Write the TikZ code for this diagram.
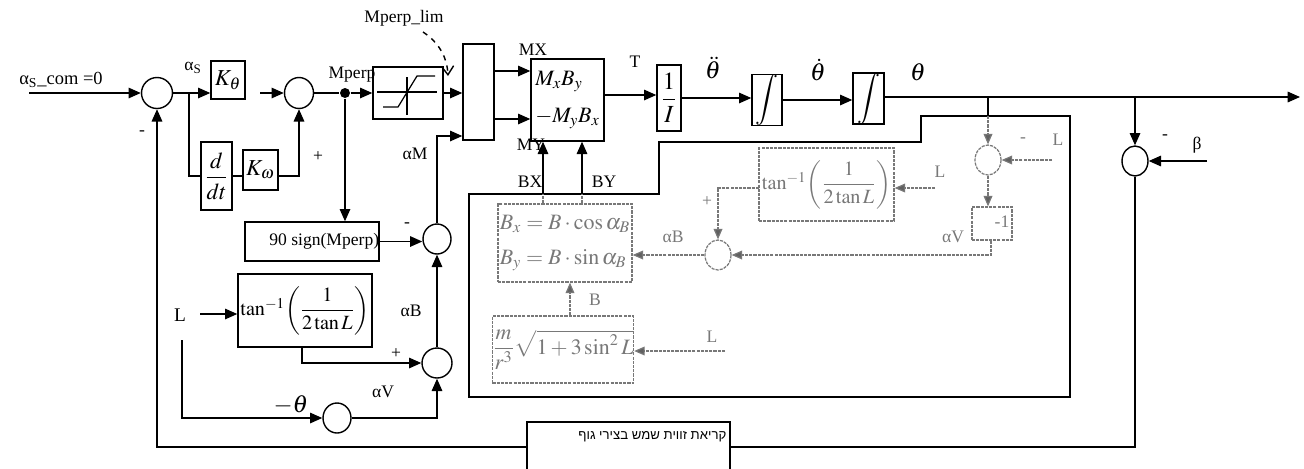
\documentclass[tikz,border=0pt]{standalone}
\usepackage{amsmath}
\usepackage{mathptmx}
\usepackage{fontspec}
\setmainfont{Liberation Serif}
\newfontfamily\hebfont[Script=Hebrew]{Liberation Sans}
\TeXXeTstate=1
\usetikzlibrary{arrows.meta,shapes.geometric,calc}
\definecolor{gr}{RGB}{120,120,120}
\begin{document}
\begin{tikzpicture}[x=0.02cm,y=-0.02cm,
  line width=0.8pt,
  sz/.style 2 args={minimum width=#1*0.02cm,minimum height=#2*0.02cm},
  box/.style={draw,inner sep=0pt,line width=0.8pt},
  sumc/.style={draw,ellipse,inner sep=0pt,line width=0.8pt},
  gbox/.style={draw=gr,text=gr,inner sep=0pt,line width=0.7pt,dash pattern=on 1.8pt off 0.6pt},
  gsum/.style={draw=gr,ellipse,inner sep=0pt,line width=0.7pt,dash pattern=on 1.8pt off 0.6pt},
  arr/.style={-{Triangle[length=7pt,width=6pt]}},
  gl/.style={draw=gr,line width=0.7pt,dash pattern=on 1.8pt off 0.6pt},
  garr/.style={gl,-{Triangle[length=6pt,width=5pt,fill=gr!80!black]}},
  lbl/.style={font=\fontsize{10}{12}\selectfont,inner sep=0pt},
  glbl/.style={font=\fontsize{10}{12}\selectfont,inner sep=0pt,text=gr},
  mth/.style={font=\fontsize{13}{15}\selectfont}
]
\useasboundingbox (0,0) rectangle (1304,468);

% ---------- black blocks ----------
\node[sumc,sz={31}{31}] (sum1) at (157,93) {};
\node[box,sz={34}{38},mth] (kth) at (228,80) {$K_\theta$};
\node[box,sz={31}{68},mth] (ddt) at (216.5,176) {$\dfrac{d}{dt}$};
\node[box,sz={35}{40},mth] (kom) at (260.5,170) {$K_\omega$};
\node[sumc,sz={29}{31}] (sum2) at (299,93) {};
\node[circle,fill,inner sep=0pt,minimum size=10*0.02cm] (dot) at (345,93) {};
\node[box,sz={70}{52}] (sat) at (408,93) {};
\node[box,sz={31}{96}] (mux) at (478.5,92) {};
\node[box,sz={73}{82},align=left,font=\fontsize{12.5}{15}\selectfont] (mb) at (567.5,100) {$M_xB_y$\\[6pt]$-M_yB_x$};
\node[box,sz={24}{66},font=\fontsize{14}{16}\selectfont] (inv) at (669,98) {$\dfrac{1}{I}$};
\node[box,sz={30}{48},font=\fontsize{14.5}{17}\selectfont] (int1) at (767,100) {$\displaystyle\int$};
\node[box,sz={31}{47},font=\fontsize{14.5}{17}\selectfont] (int2) at (868.5,98.5) {$\displaystyle\int$};
\node[box,sz={134}{39},lbl] (sgn) at (312,241.5) {\hspace*{14pt}90 sign(Mperp)};
\node[sumc,sz={28}{30}] (sumM) at (437,239) {};
\node[box,sz={134}{73},font=\fontsize{11.5}{14}\selectfont] (tanb) at (305,310.5) {$\tan^{-1}\!\left(\dfrac{1}{2\tan L}\right)$};
\node[sumc,sz={30}{30}] (sumB) at (437,363) {};
\node[sumc,sz={28}{30}] (sumV) at (337,418) {};
\node[sumc,sz={26}{30}] (sumR) at (1135,161) {};
\node[box,sz={203}{50}] (heb) at (628.5,447) {};
\node[anchor=north east,inner sep=0pt,font=\hebfont\fontsize{7.5}{9}\selectfont] (hebt) at (727,431) {\beginR קריאת זווית שמש בצירי גוף\endR};

% saturation glyph
\draw[line width=0.7pt] (377,92) -- (437,92);
\draw[line width=0.7pt] (407,77) -- (407,115);
\draw[line width=0.7pt] (383,107) -- (398,107) -- (417,76) -- (435,76);

% ---------- container ----------
\draw (469,194) -- (659,194) -- (659,142) -- (921,142) -- (921,116) -- (1070,116) -- (1070,397) -- (469,397) -- cycle;

% ---------- gray blocks ----------
\node[gbox,sz={134}{78},align=left,font=\fontsize{12.5}{15}\selectfont] (gbx) at (565,243) {$B_x=B\cdot\cos\alpha_B$\\[5pt]$B_y=B\cdot\sin\alpha_B$};
\node[gbox,sz={140}{67},font=\fontsize{12.5}{15}\selectfont] (gB) at (563,349.5) {$\dfrac{m}{r^3}\sqrt{1+3\sin^2 L}$};
\node[gsum,sz={26}{30}] (gsumB) at (718,255) {};
\node[gbox,sz={135}{73},font=\fontsize{11.5}{14}\selectfont] (gtan) at (826.5,184.5) {$\tan^{-1}\!\left(\dfrac{1}{2\tan L}\right)$};
\node[gsum,sz={26}{30}] (gsumR) at (988,160) {};
\node[gbox,sz={40}{33}] (gneg) at (992,223.5) {};
\node[glbl] (gnegt) at (1002,222) {-1};

% ---------- labels ----------
\node[inner sep=0pt,font=\fontsize{10.5}{12}\selectfont] (lin) at (61,80) {α\textsubscript{S}\_com =0};
\node[lbl] (las) at (193,68) {α\textsubscript{S}};
\node[lbl] (lm1) at (142,133) {-};
\node[lbl] (lp1) at (318,157) {+};
\node[lbl] (lmp) at (352,75) {Mperp};
\node[lbl] (llim) at (404,18) {Mperp\_lim};
\node[lbl] (lam) at (415,154) {αM};
\node[lbl] (lmx) at (533,50) {MX};
\node[lbl] (lmy) at (531,145) {MY};
\node[lbl] (lt) at (635,62) {T};
\node[inner sep=0pt,font=\fontsize{14}{16}\selectfont] (ldd) at (713,68) {$\ddot\theta$};
\node[inner sep=0pt,font=\fontsize{14}{16}\selectfont] (ld) at (818,70) {$\dot\theta$};
\node[inner sep=0pt,font=\fontsize{14}{16}\selectfont] (lth) at (918,72) {$\theta$};
\node[lbl] (lbx) at (530,182) {BX};
\node[lbl] (lby) at (604,182) {BY};
\node[lbl] (lm2) at (407,225) {-};
\node[inner sep=0pt,font=\fontsize{11}{13}\selectfont] (lL) at (180,315) {L};
\node[lbl] (lab) at (411,311) {αB};
\node[lbl] (lp2) at (396,354) {+};
\node[lbl] (lav) at (383,392) {αV};
\node[inner sep=0pt,font=\fontsize{14}{16}\selectfont] (lnt) at (291,405) {$-\theta$};
\node[lbl] (lm3) at (1165,137) {-};
\node[lbl] (lbeta) at (1197,145) {β};
% gray labels
\node[glbl] (gp) at (707,202) {+};
\node[glbl] (gab) at (673,237) {αB};
\node[glbl] (gbl) at (595,300) {B};
\node[glbl] (gl1) at (712,337) {L};
\node[glbl] (gl2) at (940,172) {L};
\node[glbl] (gm) at (1023,140) {-};
\node[glbl] (gl3) at (1058,140) {L};
\node[glbl] (gav) at (953,237) {αV};

% ---------- coordinates ----------
\coordinate (in0) at (29,93);
\coordinate (b1) at (189,93);
\coordinate (kin) at (260,93);
\coordinate (mxin) at (450,136);
\coordinate (m1) at (494,71);
\coordinate (m2) at (494,119);
\coordinate (tout) at (604,95);
\coordinate (out) at (1300,97);
\coordinate (tap1) at (988,97);
\coordinate (tap1b) at (988,116);
\coordinate (tap2) at (1135,97);
\coordinate (bin) at (1207,161);
\coordinate (la) at (200,314);
\coordinate (ldn) at (182,340);
\coordinate (bxl) at (543,194);
\coordinate (byl) at (582,194);
\coordinate (gLa) at (725,351);
\coordinate (gLb) at (935,188);
\coordinate (gLc) at (1052,160);
\coordinate (gt1) at (759,188);

% ---------- black connectors ----------
\draw[arr] (in0) -- (sum1.west);
\draw[arr] (sum1.east) -- (sum1.east -| kth.west);
\draw (b1) |- (ddt.west);
\draw (ddt.east) -- (ddt.east -| kom.west);
\draw[arr] (ddt.east -| kom.east) -| (sum2.south);
\draw[arr] (kin) -- (sum2.west);
\draw (sum2.east) -- (dot);
\draw[arr] (dot) -- (sat.west |- dot);
\draw[arr] (dot) -- (dot |- sgn.north);
\draw[arr] (sat.east) -- (sat.east -| mux.west);
\draw[arr] (sumM.north) |- (mxin -| mux.west);
\draw[arr] (m1) -- (m1 -| mb.west);
\draw[arr] (m2) -- (m2 -| mb.west);
\draw[arr] (tout) -- (tout -| inv.west);
\draw[arr] (inv.east) -- (inv.east -| int1.west);
\draw[arr] (int1.east) -- (int1.east -| int2.west);
\draw[arr] (int2.east |- out) -- (out);
\draw (tap1) -- (tap1b);
\draw[garr] (tap1b) -- (gsumR.north);
\draw[arr] (tap2) -- (sumR.north);
\draw[arr] (bin) -- (sumR.east);
\draw (sumR.south) |- (heb.east);
\draw[arr] (heb.west) -| (sum1.south);
\draw[arr] (sgn.east) -- (sgn.east -| sumM.west);
\draw[arr] (sumB.north) -- (sumM.south);
\draw[arr] (la) -- (la -| tanb.west);
\draw[arr] (tanb.south -| 302,0) |- (sumB.west);
\draw[arr] (ldn) |- (sumV.west);
\draw[arr] (sumV.east) -| (sumB.south);
\draw[gl] (bxl |- gbx.north) -- (bxl);
\draw[gl] (byl |- gbx.north) -- (byl);
\draw[arr] (bxl) -- (bxl |- mb.south);
\draw[arr] (byl) -- (byl |- mb.south);
\draw[dashed,line width=0.8pt,-{Straight Barb[length=5pt,width=7pt]}] (423,32) .. controls (438,42) and (447,56) .. (448,76);

% ---------- gray connectors ----------
\draw[garr] (gB.north -| 570,0) -- (gbx.south -| 570,0);
\draw[garr] (gLa) -- (gLa -| gB.east);
\draw[garr] (gsumB.west) -- (gsumB.west -| gbx.east);
\draw[garr] (gt1) -| (gsumB.north);
\draw[garr] (gLb) -- (gLb -| gtan.east);
\draw[garr] (gLc) -- (gsumR.east);
\draw[garr] (gsumR.south) -- (gsumR.south |- gneg.north);
\draw[garr] (gneg.south -| 991,0) |- (gsumB.east);
\end{tikzpicture}
\end{document}
